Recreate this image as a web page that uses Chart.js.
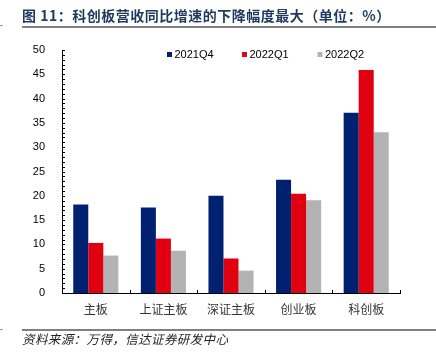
<!DOCTYPE html>
<html><head><meta charset="utf-8">
<script src="https://cdn.jsdelivr.net/npm/chart.js@4"></script>
<style>
html,body{margin:0;padding:0;background:#fff;width:436px;height:355px;overflow:hidden;}
#wrap{position:absolute;left:0;top:0;width:436px;height:355px;}
#title{position:absolute;left:22px;top:5px;font:bold 14px "Noto Sans CJK SC",sans-serif;color:#1f3a5f;white-space:nowrap;line-height:20px;letter-spacing:0.5px;}
#tline{position:absolute;left:22px;top:26px;width:414px;height:1.5px;background:#808080;}
#tmark{position:absolute;left:0;top:25px;width:3px;height:1px;background:#999;}
#fline{position:absolute;left:22px;top:329px;width:414px;height:1.5px;background:#808080;}
#fmark{position:absolute;left:0;top:329px;width:3px;height:1px;background:#999;}
#foot{position:absolute;left:22px;top:331px;font:italic 12.5px "Noto Sans CJK SC",sans-serif;color:#222;white-space:nowrap;line-height:16px;letter-spacing:0.4px;}
</style></head>
<body>
<div id="wrap"><canvas id="c" width="436" height="355"></canvas></div>
<div id="title">图 11：科创板营收同比增速的下降幅度最大（单位：%）</div>
<div id="tline"></div><div id="tmark"></div>
<div id="fline"></div><div id="fmark"></div>
<div id="foot">资料来源：万得，信达证券研发中心</div>
<script>
const categories = ["主板", "上证主板", "深证主板", "创业板", "科创板"];
const seriesNames = ["2021Q4", "2022Q1", "2022Q2"];
const q4_2021 = [18.2, 17.6, 20.0, 23.3, 37.1];
const q1_2022 = [10.3, 11.2, 7.1, 20.4, 45.9];
const q2_2022 = [7.7, 8.7, 4.6, 19.1, 33.1];
const colors = ["#002070", "#e1000f", "#b3b3b3"];
const yTicks = [0, 5, 10, 15, 20, 25, 30, 35, 40, 45, 50];

const decor = {
  id: 'decor',
  afterDraw(chart) {
    const ctx = chart.ctx;
    const y = chart.scales.y, x = chart.scales.x;
    ctx.save();
    ctx.strokeStyle = '#000';
    ctx.lineWidth = 1;
    for (let v = 0; v <= 50; v++) {
      const py = Math.round(y.getPixelForValue(v)) + 0.5;
      ctx.beginPath(); ctx.moveTo(x.left, py); ctx.lineTo(x.left + 3, py); ctx.stroke();
    }
    const n = categories.length;
    for (let i = 1; i <= n; i++) {
      const px = Math.round(x.getPixelForValue(i - 0.5)) + 0.5;
      ctx.beginPath(); ctx.moveTo(px, y.bottom); ctx.lineTo(px, y.bottom - 3); ctx.stroke();
    }
    const lx = [167, 242, 317.5];
    ctx.font = '11px "Liberation Sans", Arial, sans-serif';
    ctx.textBaseline = 'middle';
    ctx.textAlign = 'left';
    chart.data.datasets.forEach((ds, i) => {
      ctx.fillStyle = ds.backgroundColor;
      ctx.fillRect(lx[i], 52, 5, 5);
      ctx.fillStyle = '#000';
      ctx.fillText(ds.label, lx[i] + 7.5, 55);
    });
    ctx.restore();
  }
};

new Chart(document.getElementById('c'), {
  type: 'bar',
  data: {
    labels: categories,
    datasets: [
      { label: seriesNames[0], data: q4_2021, backgroundColor: colors[0] },
      { label: seriesNames[1], data: q1_2022, backgroundColor: colors[1] },
      { label: seriesNames[2], data: q2_2022, backgroundColor: colors[2] }
    ]
  },
  options: {
    responsive: false,
    animation: false,
    devicePixelRatio: 1,
    layout: { padding: { left: 0, right: 36, top: 50, bottom: 36 } },
    plugins: { legend: { display: false }, tooltip: { enabled: false }, title: { display: false } },
    datasets: { bar: { categoryPercentage: 0.667, barPercentage: 1.0, borderWidth: 0 } },
    scales: {
      x: {
        grid: { display: false, drawTicks: false },
        border: { display: true, color: '#000', width: 1 },
        ticks: { color: '#333', font: { family: '"Noto Sans CJK SC", sans-serif', size: 12 }, padding: 9, maxRotation: 0 },
        afterFit(s) { s.height = 26; }
      },
      y: {
        min: 0, max: 50,
        grid: { display: false, drawTicks: false },
        border: { display: true, color: '#000', width: 1 },
        afterBuildTicks(s) { s.ticks = yTicks.map(v => ({ value: v })); },
        ticks: { color: '#000', font: { family: '"Liberation Sans", Arial, sans-serif', size: 11 }, padding: 17 },
        afterFit(s) { s.width = 62; }
      }
    }
  },
  plugins: [decor]
});
</script>
</body></html>
